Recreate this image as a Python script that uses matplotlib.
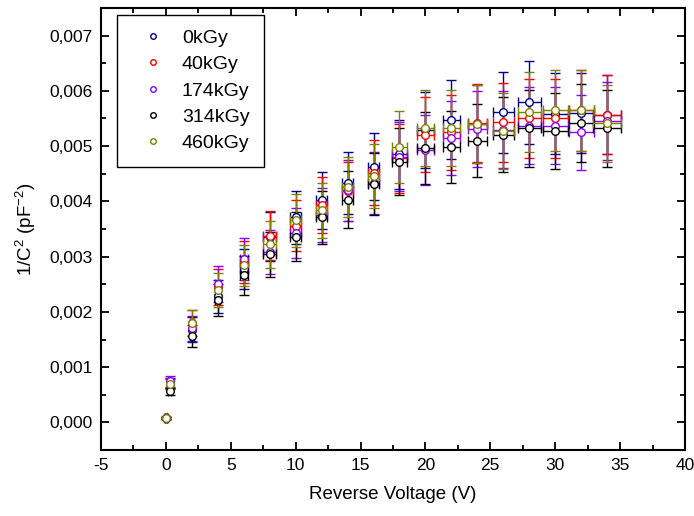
import matplotlib
matplotlib.use("Agg")
import matplotlib.pyplot as plt
from matplotlib.lines import Line2D
from matplotlib.ticker import MultipleLocator, FuncFormatter

plt.rcParams['font.family'] = ['Liberation Sans', 'DejaVu Sans']
plt.rcParams['mathtext.fontset'] = 'custom'
plt.rcParams['mathtext.rm'] = 'Liberation Sans'
plt.rcParams['mathtext.it'] = 'Liberation Sans'
plt.rcParams['axes.unicode_minus'] = False

# reverse voltage (V)
voltage = [0, 0.3, 2, 4, 6, 8, 10, 12, 14, 16, 18, 20, 22, 24, 26, 28, 30, 32, 34]
volt_err = [0.05, 0.1, 0.15, 0.2, 0.3, 0.5, 0.4, 0.4, 0.45, 0.45, 0.58, 0.64, 0.68,
            0.74, 0.81, 0.88, 0.95, 0.96, 1.05]

# 1/C^2 in units of 1e-3 pF^-2
inv_c2_0 = [0.08, 0.72, 1.68, 2.28, 2.78, 3.36, 3.71, 4.02, 4.34, 4.63, 4.85, 5.29,
            5.48, 5.40, 5.61, 5.79, 5.59, 5.60, 5.57]
inv_c2_40 = [0.08, 0.70, 1.80, 2.45, 2.90, 3.38, 3.56, 3.93, 4.18, 4.52, 4.78, 5.21,
             5.25, 5.42, 5.43, 5.50, 5.50, 5.65, 5.57]
inv_c2_174 = [0.08, 0.74, 1.70, 2.50, 2.95, 3.08, 3.43, 3.76, 4.20, 4.34, 4.81, 4.93,
              5.14, 5.31, 5.30, 5.37, 5.37, 5.25, 5.45]
inv_c2_314 = [0.08, 0.56, 1.56, 2.21, 2.66, 3.04, 3.36, 3.71, 4.03, 4.31, 4.72, 4.97,
              4.98, 5.10, 5.21, 5.32, 5.27, 5.42, 5.32]
inv_c2_460 = [0.08, 0.69, 1.80, 2.40, 2.84, 3.22, 3.66, 3.84, 4.26, 4.46, 4.99, 5.33,
              5.33, 5.40, 5.28, 5.62, 5.65, 5.65, 5.41]

err_0 = [0.01, 0.09, 0.22, 0.30, 0.36, 0.44, 0.48, 0.52, 0.56, 0.60, 0.63, 0.69,
         0.71, 0.70, 0.73, 0.75, 0.73, 0.73, 0.72]
err_40 = [0.01, 0.09, 0.23, 0.32, 0.38, 0.44, 0.46, 0.51, 0.54, 0.59, 0.62, 0.68,
          0.68, 0.70, 0.71, 0.72, 0.72, 0.73, 0.72]
err_174 = [0.01, 0.10, 0.22, 0.33, 0.38, 0.40, 0.45, 0.49, 0.55, 0.56, 0.63, 0.64,
           0.67, 0.69, 0.69, 0.70, 0.70, 0.68, 0.71]
err_314 = [0.01, 0.07, 0.20, 0.29, 0.35, 0.40, 0.44, 0.48, 0.52, 0.56, 0.61, 0.65,
           0.65, 0.66, 0.68, 0.69, 0.69, 0.70, 0.69]
err_460 = [0.01, 0.09, 0.23, 0.31, 0.37, 0.42, 0.48, 0.50, 0.55, 0.58, 0.65, 0.69,
           0.69, 0.70, 0.69, 0.73, 0.73, 0.73, 0.70]

labels = ['0kGy', '40kGy', '174kGy', '314kGy', '460kGy']
colors = ['#00008B', '#FF0000', '#8B00FF', '#000000', '#808000']
series = [inv_c2_0, inv_c2_40, inv_c2_174, inv_c2_314, inv_c2_460]
errors = [err_0, err_40, err_174, err_314, err_460]

fig = plt.figure(figsize=(6.94, 5.16), dpi=100)
ax = fig.add_axes([0.1455, 0.1279, 0.8415, 0.8566])

handles = []
for vals, errs, col, lab in zip(series, errors, colors, labels):
    y = [v * 1e-3 for v in vals]
    ye = [e * 1e-3 for e in errs]
    ax.errorbar(voltage, y, yerr=ye, xerr=volt_err, fmt='o', color=col, ecolor=col,
                mfc='white', mec=col, ms=5.5, mew=1.0, elinewidth=1.0, capsize=3.5,
                capthick=1.0)
    handles.append(Line2D([], [], ls='none', marker='o', ms=4, mfc='white',
                          mec=col, mew=1.0, label=lab))

ax.set_xlim(-5, 40)
ax.set_ylim(-0.0005, 0.0075)
ax.xaxis.set_major_locator(MultipleLocator(5))
ax.xaxis.set_minor_locator(MultipleLocator(2.5))
ax.yaxis.set_major_locator(MultipleLocator(0.001))
ax.yaxis.set_minor_locator(MultipleLocator(0.0005))
ax.yaxis.set_major_formatter(FuncFormatter(lambda v, p: f'{v:.3f}'.replace('.', ',')))
ax.xaxis.set_major_formatter(FuncFormatter(lambda v, p: f'{v:.0f}'))

ax.tick_params(which='both', direction='in', top=True, right=True, width=1.3,
               labelsize=12.5, pad=6)
ax.tick_params(which='major', length=6)
ax.tick_params(which='minor', length=3.5)
for s in ax.spines.values():
    s.set_linewidth(1.5)

ax.set_xlabel('Reverse Voltage (V)', fontsize=13.5, labelpad=9)
ax.set_ylabel('1/C$^2$ (pF$^{-2}$)', fontsize=13.5, labelpad=8)

leg = ax.legend(handles=handles, loc='upper left', bbox_to_anchor=(0.027, 0.985),
                fontsize=14, fancybox=False, edgecolor='black', framealpha=1,
                handletextpad=0.4, labelspacing=0.45, borderpad=0.75,
                handlelength=2.2, borderaxespad=0)
leg.get_frame().set_linewidth(1.0)

fig.savefig('out.png', dpi=100)
